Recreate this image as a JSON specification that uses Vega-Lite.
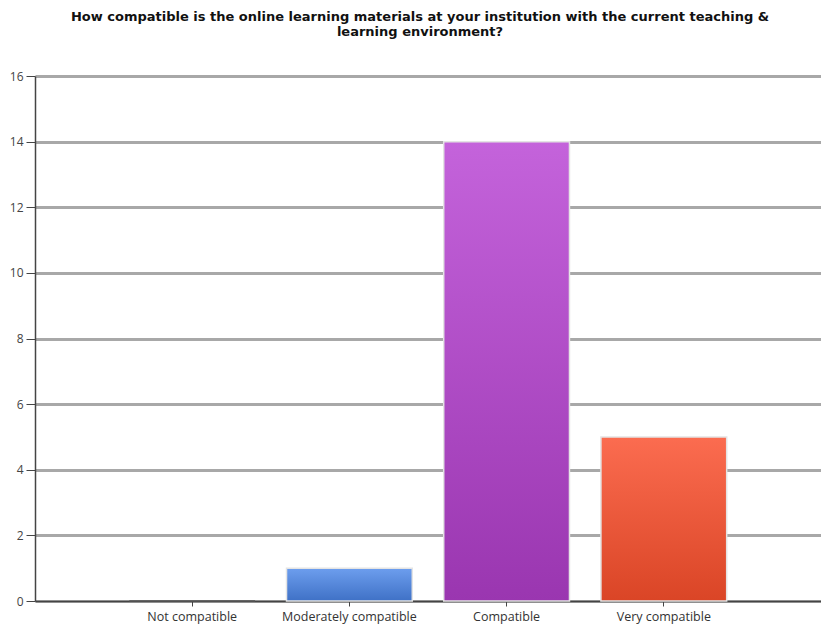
{
  "$schema": "https://vega.github.io/schema/vega-lite/v6.json",
  "width": 786,
  "height": 525,
  "autosize": "none",
  "padding": {"left": 35, "top": 76, "right": 0, "bottom": 27},
  "background": "white",
  "title": {
    "text": ["How compatible is the online learning materials at your institution with the current teaching &", "learning environment?"],
    "font": "DejaVu Sans",
    "fontSize": 13,
    "fontWeight": "bold",
    "color": "#111",
    "anchor": "middle",
    "frame": "group",
    "dx": -8,
    "offset": 31,
    "lineHeight": 15
  },
  "data": {
    "values": [
      {"category": "Not compatible", "count": 0},
      {"category": "Moderately compatible", "count": 1},
      {"category": "Compatible", "count": 14},
      {"category": "Very compatible", "count": 5}
    ]
  },
  "config": {
    "view": {"stroke": null},
    "axis": {"labelFont": "Open Sans", "labelColor": "#333"}
  },
  "mark": {"type": "bar", "strokeWidth": 1.5},
  "encoding": {
    "x": {
      "field": "category",
      "type": "nominal",
      "sort": null,
      "scale": {"paddingInner": 0.2, "paddingOuter": 0.6},
      "axis": {
        "title": null,
        "labelAngle": 0,
        "labelFontSize": 12.5,
        "domainColor": "#444",
        "domainWidth": 1.5,
        "tickColor": "#444",
        "tickSize": 5,
        "labelPadding": 4
      }
    },
    "y": {
      "field": "count",
      "type": "quantitative",
      "scale": {"domain": [0, 16]},
      "axis": {
        "title": null,
        "values": [0, 2, 4, 6, 8, 10, 12, 14, 16],
        "labelFontSize": 12,
        "labelColor": "#444",
        "grid": true,
        "gridColor": "#a8a8a8",
        "gridWidth": 3,
        "domainColor": "#444",
        "domainWidth": 1.5,
        "tickColor": "#444",
        "tickSize": 9,
        "labelPadding": 3
      }
    },
    "stroke": {
      "condition": {"test": "datum.count === 0", "value": "#555"},
      "value": "#e4e4e4"
    },
    "fill": {
      "condition": [
        {"test": "datum.category === 'Moderately compatible'", "value": {"gradient": "linear", "x1": 0, "y1": 0, "x2": 0, "y2": 1, "stops": [{"offset": 0, "color": "#6d9eee"}, {"offset": 1, "color": "#3f71c6"}]}},
        {"test": "datum.category === 'Compatible'", "value": {"gradient": "linear", "x1": 0, "y1": 0, "x2": 0, "y2": 1, "stops": [{"offset": 0, "color": "#c463db"}, {"offset": 1, "color": "#9a36b0"}]}},
        {"test": "datum.category === 'Very compatible'", "value": {"gradient": "linear", "x1": 0, "y1": 0, "x2": 0, "y2": 1, "stops": [{"offset": 0, "color": "#fb6c50"}, {"offset": 1, "color": "#da4526"}]}}
      ],
      "value": "#777"
    }
  }
}
